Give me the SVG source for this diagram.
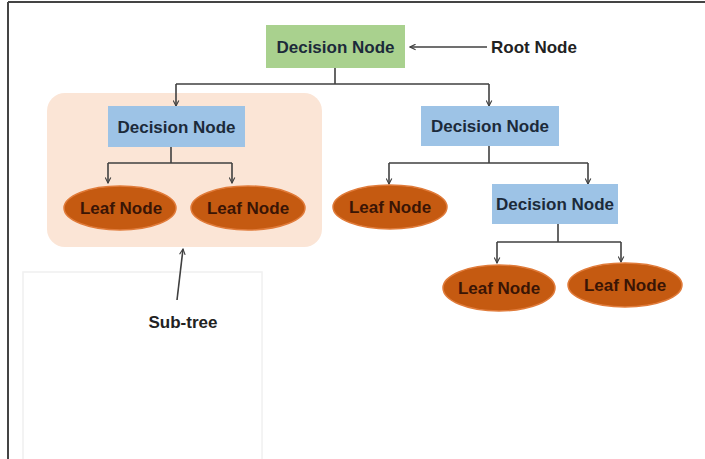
<svg xmlns="http://www.w3.org/2000/svg" width="705" height="459" viewBox="0 0 705 459">
<defs>
<style>
.t{font-family:"Liberation Sans",Arial,sans-serif;font-weight:bold;font-size:17px;text-anchor:middle;dominant-baseline:central}
.dn{fill:#1c2a3a}
.lf{fill:#3a1505}
.blue{fill:#9DC3E6}
.leaf{fill:#C55A11;stroke:#E07B3A;stroke-width:1.5}
.c{fill:none;stroke:#404040;stroke-width:1.6}
</style>
<marker id="ah" viewBox="0 0 10 10" refX="9" refY="5" markerWidth="7" markerHeight="7" orient="auto" markerUnits="userSpaceOnUse">
<path d="M1,1 L9,5 L1,9" fill="none" stroke="#404040" stroke-width="1.6"/>
</marker>
</defs>
<rect width="705" height="459" fill="#ffffff"/>
<g id="frame">
<line x1="8" y1="2" x2="705" y2="2" stroke="#444" stroke-width="2"/>
<line x1="8" y1="2" x2="8" y2="459" stroke="#444" stroke-width="2"/>
<rect x="23" y="272" width="239" height="190" fill="none" stroke="#f0f0f0" stroke-width="1.5"/>
</g>
<g id="subtree-bg">
<rect x="47" y="93" width="275" height="154" rx="18" fill="#FBE5D6"/>
</g>
<g id="connectors">
<path class="c" d="M335,68 V84 M176,84 H489"/>
<path class="c" d="M176,84 V106" marker-end="url(#ah)"/>
<path class="c" d="M489,84 V106" marker-end="url(#ah)"/>
<path class="c" d="M171,147 V163 M108,163 H232"/>
<path class="c" d="M108,163 V183" marker-end="url(#ah)"/>
<path class="c" d="M232,163 V183" marker-end="url(#ah)"/>
<path class="c" d="M489,146 V163 M389,163 H588"/>
<path class="c" d="M389,163 V184" marker-end="url(#ah)"/>
<path class="c" d="M588,163 V184" marker-end="url(#ah)"/>
<path class="c" d="M558,224 V242 M497,242 H621"/>
<path class="c" d="M497,242 V263" marker-end="url(#ah)"/>
<path class="c" d="M621,242 V262" marker-end="url(#ah)"/>
<path class="c" d="M487,47 H410" marker-end="url(#ah)"/>
<path class="c" d="M177,300 L183,249" marker-end="url(#ah)"/>
</g>
<g id="root">
<rect x="266" y="25" width="139" height="43" fill="#A9D18E"/>
<text class="t dn" x="335.5" y="47">Decision Node</text>
</g>
<g id="root-label"><text class="t" x="534" y="47" fill="#222">Root Node</text></g>
<g id="dec-left">
<rect class="blue" x="108" y="106" width="137" height="41"/>
<text class="t dn" x="176.5" y="127">Decision Node</text>
</g>
<g id="dec-right">
<rect class="blue" x="421" y="106" width="138" height="40"/>
<text class="t dn" x="490" y="126.5">Decision Node</text>
</g>
<g id="dec-lower">
<rect class="blue" x="492" y="184" width="126" height="40"/>
<text class="t dn" x="555" y="204.5">Decision Node</text>
</g>
<g id="leaf1"><ellipse class="leaf" cx="120" cy="208" rx="56" ry="22"/><text class="t lf" x="121" y="208">Leaf Node</text></g>
<g id="leaf2"><ellipse class="leaf" cx="248" cy="208" rx="57" ry="22"/><text class="t lf" x="248" y="208">Leaf Node</text></g>
<g id="leaf3"><ellipse class="leaf" cx="390" cy="207" rx="57" ry="22"/><text class="t lf" x="390" y="207">Leaf Node</text></g>
<g id="leaf4"><ellipse class="leaf" cx="499" cy="288" rx="56" ry="23"/><text class="t lf" x="499" y="288">Leaf Node</text></g>
<g id="leaf5"><ellipse class="leaf" cx="625" cy="285" rx="57" ry="22"/><text class="t lf" x="625" y="285">Leaf Node</text></g>
<g id="subtree-label"><text class="t" x="183" y="322" fill="#222">Sub-tree</text></g>
</svg>
